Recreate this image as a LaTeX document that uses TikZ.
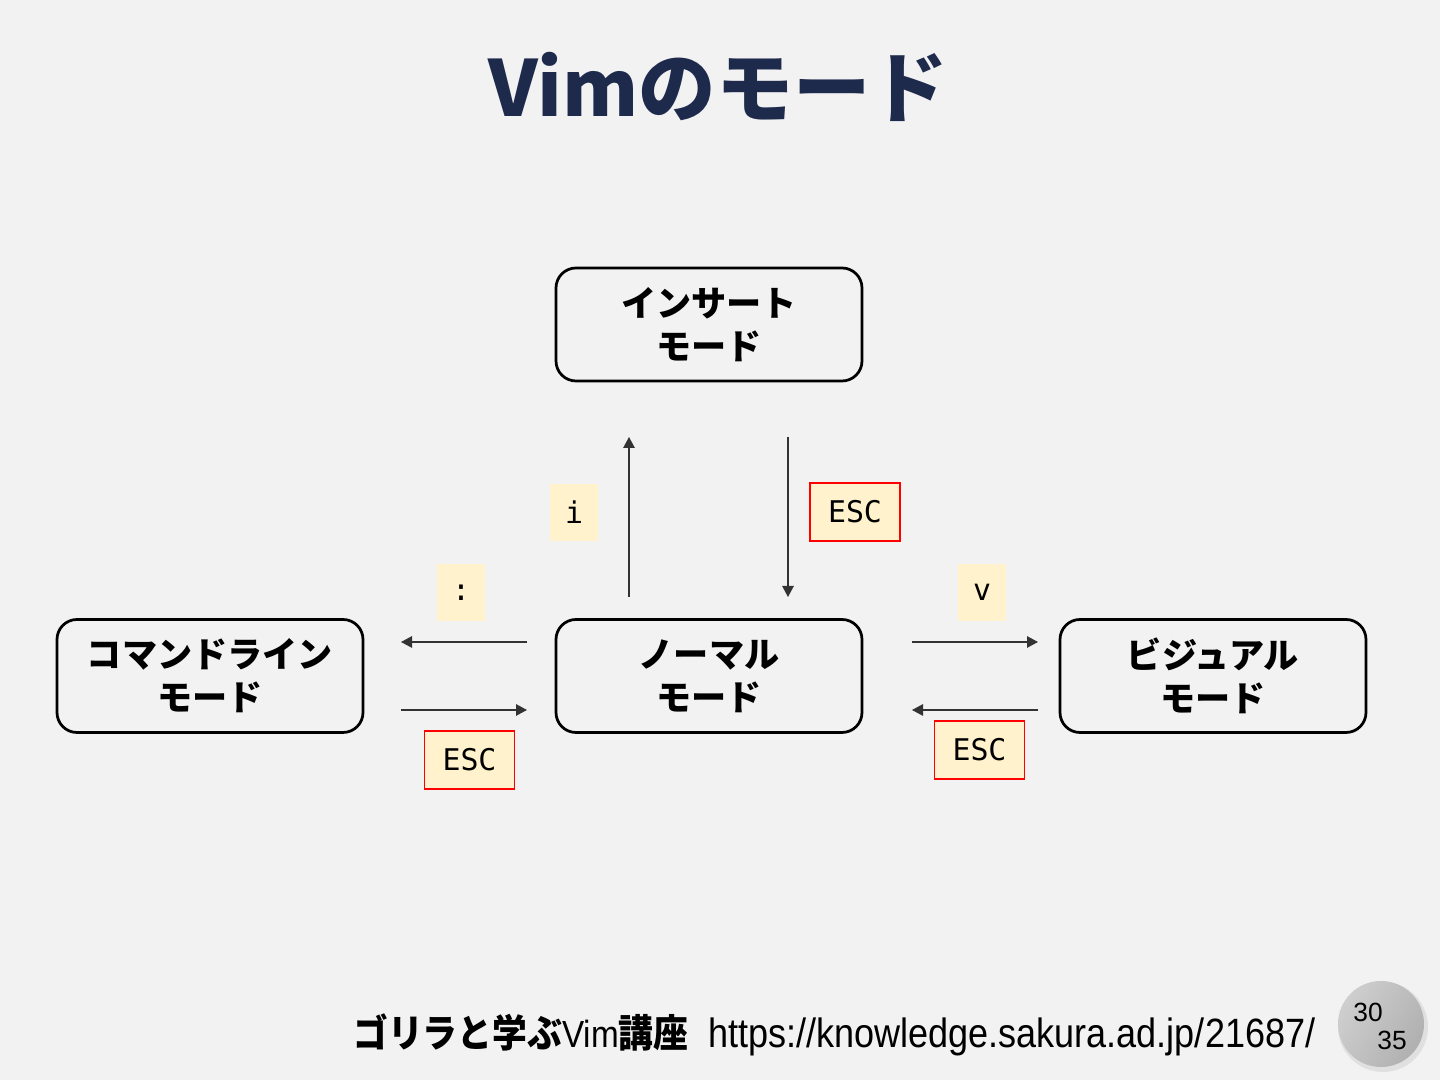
\documentclass[tikz,border=0pt]{standalone}
\usepackage{fontspec}
\setmainfont{Liberation Sans}
\setmonofont{DejaVu Sans Mono}
\newfontfamily\jpfont{Noto Sans CJK JP}
\newfontfamily\jpnarrow[FakeStretch=0.9]{Noto Sans CJK JP}
\newfontfamily\urlfont[FakeStretch=0.88]{Liberation Sans}
\usetikzlibrary{arrows.meta,positioning}
\definecolor{slidebg}{HTML}{F2F2F2}
\definecolor{titleblue}{HTML}{1E2A4C}
\definecolor{keyfill}{HTML}{FFF2CC}

\begin{document}
\begin{tikzpicture}[line width=0.3mm,
    mode/.style={draw=black,line width=0.55mm,rounded corners=0.4cm,minimum width=6.12cm,minimum height=2.26cm,align=center,font=\jpfont\bfseries\fontsize{20}{24.5}\selectfont},
    keybox/.style={fill=keyfill,minimum width=0.96cm,minimum height=1.14cm,inner sep=0pt,font=\ttfamily\fontsize{17}{20}\selectfont},
    esckey/.style={keybox,draw=red,line width=0.3mm,minimum width=1.8cm,minimum height=1.16cm},
    trans/.style={black!80,line width=0.25mm,-{Triangle[length=2.2mm,width=2.3mm]}}]
    \fill [slidebg] (0,0) rectangle (28.8,21.6);
    \useasboundingbox (0,0) rectangle (28.8,21.6);
    \node [text=titleblue,font=\jpfont\bfseries\fontsize{44}{50}\selectfont] (title) at (14.36,19.86) {Vimのモード};
    % modes
    \node [mode] (insert) at (14.18,15.11) {インサート\\モード};
    \node [mode] (normal) at (14.18,8.08) {ノーマル\\モード};
    \node [mode] (cmdline) at (4.2,8.08) {コマンドライン\\モード};
    \node [mode] (visual) at (24.26,8.08) {ビジュアル\\モード};
    % arrow ends
    \coordinate (I1) at (12.58,9.66);
    \coordinate (I2) at (12.58,12.86);
    \coordinate (E1) at (15.76,12.86);
    \coordinate (E2) at (15.76,9.66);
    \coordinate (C1) at (10.54,8.76);
    \coordinate (C2) at (8.02,8.76);
    \coordinate (C3) at (8.02,7.40);
    \coordinate (C4) at (10.54,7.40);
    \coordinate (V1) at (18.24,8.76);
    \coordinate (V2) at (20.76,8.76);
    \coordinate (V3) at (20.76,7.40);
    \coordinate (V4) at (18.24,7.40);
    \draw [trans] (I1) -- (I2);
    \draw [trans] (E1) -- (E2);
    \draw [trans] (C1) -- (C2);
    \draw [trans] (C3) -- (C4);
    \draw [trans] (V1) -- (V2);
    \draw [trans] (V3) -- (V4);
    % keys
    \node [keybox] (keyi) at (11.48,11.35) {i};
    \node [esckey] (escinsert) at (17.1,11.36) {ESC};
    \node [keybox] (keycolon) at (9.22,9.75) {:};
    \node [keybox] (keyv) at (19.64,9.75) {v};
    \node [esckey] (esccmd) at (9.39,6.4) {ESC};
    \node [esckey] (escvisual) at (19.59,6.6) {ESC};
    % footer
    \node [anchor=base east,inner sep=0pt] (footer) at (26.32,0.64)
        {{\jpnarrow\bfseries\fontsize{22}{24}\selectfont ゴリラと学ぶ}{\urlfont\fontsize{21.5}{24}\selectfont Vim}{\jpnarrow\bfseries\fontsize{22}{24}\selectfont 講座}\hspace{0.4cm}{\urlfont\fontsize{23.3}{24}\selectfont https://knowledge.sakura.ad.jp/21687/}};
    \fill [black!12] (27.66,1.06) circle [radius=0.9cm];
    \shade [left color=gray!38,right color=gray!62,shading angle=60] (27.62,1.12) circle [radius=0.86cm];
    \node [font=\fontsize{15}{17}\selectfont] (pagenum) at (27.36,1.36) {30};
    \node [font=\fontsize{15}{17}\selectfont] (pagetotal) at (27.84,0.8) {35};
\end{tikzpicture}
\end{document}
